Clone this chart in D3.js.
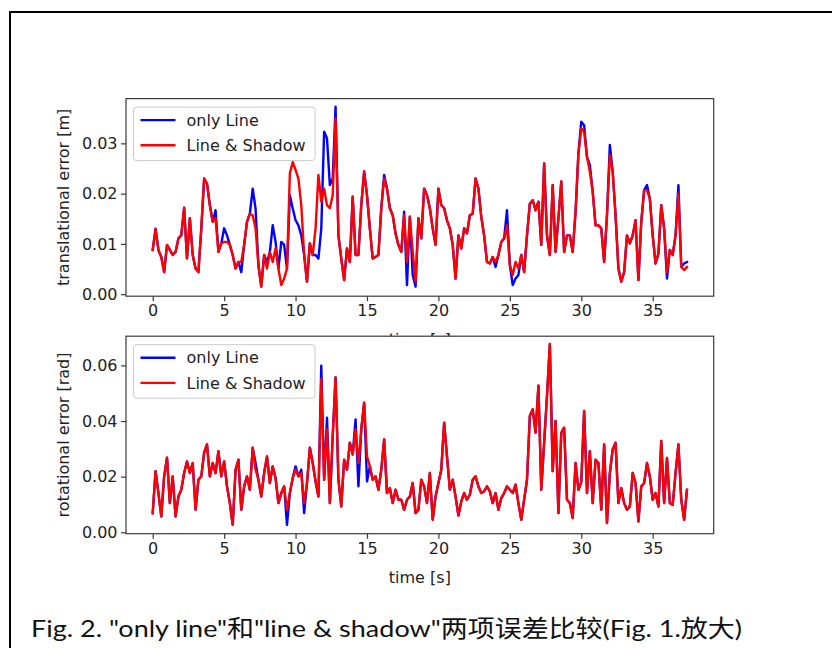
<!DOCTYPE html>
<html><head><meta charset="utf-8">
<script src="https://cdn.jsdelivr.net/npm/d3@7/dist/d3.min.js"></script>
<style>body{margin:0;background:#fff}svg{display:block}</style>
</head><body><svg id="c" width="832" height="648"></svg>
<script>
// ---- data ----
const sampleStep = 0.2; // s between samples
const xTicks = [0, 5, 10, 15, 20, 25, 30, 35];
const transTicks = [0.00, 0.01, 0.02, 0.03];
const rotTicks = [0.00, 0.02, 0.04, 0.06];
const seriesNames = ["only Line", "Line & Shadow"];
const seriesColors = ["#0000ff", "#ff0000"];
const caption = "Fig. 2. \"only line\"和\"line & shadow\"两项误差比较(Fig. 1.放大)";

const transOnlyLine = [
0.0088,0.0130,0.0088,0.0074,0.0044,0.0098,0.0088,0.0078,0.0084,0.0111,
0.0117,0.0172,0.0071,0.0151,0.0078,0.0051,0.0044,0.0130,0.0230,0.0220,
0.0177,0.0144,0.0167,0.0084,0.0101,0.0131,0.0117,0.0098,0.0078,0.0051,
0.0064,0.0044,0.0098,0.0144,0.0160,0.0210,0.0170,0.0058,0.0015,0.0078,
0.0064,0.0084,0.0137,0.0104,0.0051,0.0104,0.0098,0.0051,0.0197,0.0171,
0.0147,0.0137,0.0117,0.0078,0.0025,0.0101,0.0078,0.0078,0.0071,0.0131,
0.0323,0.0310,0.0217,0.0230,0.0373,0.0117,0.0071,0.0028,0.0091,0.0064,
0.0194,0.0078,0.0078,0.0177,0.0244,0.0197,0.0131,0.0071,0.0074,0.0078,
0.0171,0.0237,0.0210,0.0171,0.0157,0.0121,0.0098,0.0084,0.0164,0.0018,
0.0154,0.0038,0.0015,0.0151,0.0111,0.0210,0.0197,0.0171,0.0131,0.0098,
0.0210,0.0177,0.0171,0.0147,0.0131,0.0098,0.0031,0.0117,0.0091,0.0131,
0.0121,0.0157,0.0160,0.0230,0.0210,0.0154,0.0117,0.0064,0.0061,0.0074,
0.0054,0.0078,0.0104,0.0111,0.0167,0.0058,0.0018,0.0031,0.0038,0.0078,
0.0044,0.0117,0.0180,0.0187,0.0167,0.0184,0.0098,0.0260,0.0117,0.0078,
0.0217,0.0084,0.0151,0.0224,0.0084,0.0117,0.0117,0.0084,0.0164,0.0280,
0.0343,0.0336,0.0273,0.0257,0.0204,0.0137,0.0137,0.0131,0.0064,0.0157,
0.0297,0.0244,0.0157,0.0051,0.0025,0.0044,0.0117,0.0101,0.0117,0.0147,
0.0028,0.0144,0.0207,0.0217,0.0190,0.0117,0.0061,0.0081,0.0177,0.0131,
0.0031,0.0088,0.0078,0.0117,0.0217,0.0054,0.0061,0.0064];

const transLineShadow = [
0.0088,0.0130,0.0088,0.0074,0.0044,0.0098,0.0088,0.0078,0.0084,0.0111,
0.0117,0.0172,0.0071,0.0151,0.0078,0.0051,0.0044,0.0130,0.0230,0.0220,
0.0177,0.0144,0.0151,0.0084,0.0101,0.0104,0.0104,0.0098,0.0078,0.0051,
0.0064,0.0064,0.0098,0.0144,0.0160,0.0157,0.0131,0.0058,0.0015,0.0078,
0.0051,0.0084,0.0064,0.0091,0.0051,0.0018,0.0031,0.0051,0.0240,0.0263,
0.0247,0.0230,0.0177,0.0078,0.0025,0.0101,0.0078,0.0131,0.0237,0.0184,
0.0210,0.0177,0.0171,0.0197,0.0350,0.0117,0.0071,0.0028,0.0091,0.0064,
0.0194,0.0078,0.0078,0.0177,0.0244,0.0197,0.0131,0.0071,0.0074,0.0078,
0.0171,0.0230,0.0210,0.0171,0.0157,0.0121,0.0098,0.0084,0.0157,0.0064,
0.0154,0.0084,0.0025,0.0151,0.0111,0.0210,0.0197,0.0171,0.0131,0.0098,
0.0210,0.0177,0.0171,0.0147,0.0131,0.0098,0.0031,0.0117,0.0091,0.0131,
0.0121,0.0157,0.0160,0.0230,0.0210,0.0154,0.0117,0.0064,0.0061,0.0074,
0.0064,0.0078,0.0104,0.0111,0.0137,0.0058,0.0038,0.0064,0.0051,0.0078,
0.0044,0.0117,0.0180,0.0187,0.0167,0.0184,0.0098,0.0260,0.0117,0.0078,
0.0217,0.0084,0.0151,0.0224,0.0084,0.0117,0.0117,0.0084,0.0164,0.0280,
0.0330,0.0323,0.0273,0.0244,0.0204,0.0137,0.0137,0.0131,0.0064,0.0157,
0.0277,0.0244,0.0157,0.0051,0.0025,0.0044,0.0117,0.0101,0.0117,0.0147,
0.0028,0.0144,0.0207,0.0207,0.0190,0.0117,0.0061,0.0081,0.0177,0.0131,
0.0044,0.0088,0.0078,0.0117,0.0200,0.0054,0.0048,0.0054];

const rotOnlyLine = [
0.0069,0.0220,0.0141,0.0057,0.0201,0.0268,0.0105,0.0201,0.0057,0.0129,
0.0153,0.0213,0.0255,0.0213,0.0249,0.0081,0.0189,0.0201,0.0286,0.0316,
0.0201,0.0249,0.0213,0.0292,0.0201,0.0255,0.0165,0.0105,0.0027,0.0225,
0.0261,0.0081,0.0165,0.0201,0.0153,0.0304,0.0249,0.0189,0.0129,0.0213,
0.0273,0.0177,0.0237,0.0195,0.0105,0.0141,0.0165,0.0027,0.0141,0.0195,
0.0237,0.0201,0.0225,0.0069,0.0177,0.0304,0.0249,0.0183,0.0129,0.0599,
0.0189,0.0412,0.0105,0.0346,0.0557,0.0189,0.0093,0.0261,0.0225,0.0322,
0.0280,0.0406,0.0165,0.0370,0.0466,0.0183,0.0237,0.0189,0.0201,0.0153,
0.0225,0.0334,0.0141,0.0159,0.0105,0.0153,0.0117,0.0117,0.0081,0.0117,
0.0129,0.0177,0.0069,0.0081,0.0189,0.0165,0.0105,0.0213,0.0045,0.0129,
0.0177,0.0225,0.0394,0.0273,0.0153,0.0189,0.0129,0.0060,0.0111,0.0141,
0.0117,0.0135,0.0189,0.0201,0.0165,0.0141,0.0147,0.0165,0.0147,0.0105,
0.0141,0.0081,0.0123,0.0141,0.0165,0.0153,0.0141,0.0171,0.0105,0.0045,
0.0117,0.0189,0.0418,0.0442,0.0358,0.0527,0.0153,0.0322,0.0490,0.0677,
0.0220,0.0400,0.0069,0.0358,0.0376,0.0117,0.0105,0.0051,0.0249,0.0153,
0.0180,0.0436,0.0141,0.0292,0.0105,0.0261,0.0249,0.0081,0.0316,0.0033,
0.0213,0.0298,0.0322,0.0105,0.0159,0.0105,0.0081,0.0093,0.0213,0.0177,
0.0039,0.0165,0.0177,0.0249,0.0201,0.0117,0.0141,0.0093,0.0328,0.0105,
0.0267,0.0105,0.0099,0.0213,0.0316,0.0117,0.0045,0.0153];

const rotLineShadow = [
0.0069,0.0220,0.0141,0.0057,0.0201,0.0268,0.0105,0.0201,0.0057,0.0129,
0.0153,0.0213,0.0255,0.0213,0.0249,0.0081,0.0189,0.0201,0.0286,0.0316,
0.0201,0.0249,0.0213,0.0292,0.0201,0.0255,0.0165,0.0105,0.0027,0.0225,
0.0261,0.0081,0.0165,0.0201,0.0153,0.0304,0.0225,0.0189,0.0129,0.0213,
0.0273,0.0177,0.0237,0.0195,0.0105,0.0141,0.0165,0.0081,0.0141,0.0195,
0.0225,0.0201,0.0213,0.0105,0.0177,0.0304,0.0249,0.0183,0.0129,0.0550,
0.0189,0.0370,0.0105,0.0346,0.0557,0.0189,0.0093,0.0261,0.0225,0.0322,
0.0280,0.0370,0.0249,0.0370,0.0466,0.0273,0.0237,0.0189,0.0201,0.0153,
0.0225,0.0334,0.0141,0.0159,0.0105,0.0153,0.0117,0.0117,0.0081,0.0117,
0.0129,0.0177,0.0069,0.0081,0.0189,0.0165,0.0105,0.0213,0.0045,0.0129,
0.0177,0.0225,0.0394,0.0273,0.0153,0.0189,0.0129,0.0060,0.0111,0.0141,
0.0117,0.0135,0.0189,0.0201,0.0165,0.0141,0.0147,0.0165,0.0147,0.0105,
0.0141,0.0081,0.0123,0.0141,0.0165,0.0153,0.0141,0.0171,0.0105,0.0045,
0.0117,0.0189,0.0418,0.0442,0.0358,0.0527,0.0153,0.0322,0.0490,0.0677,
0.0220,0.0400,0.0069,0.0358,0.0376,0.0117,0.0105,0.0051,0.0249,0.0153,
0.0180,0.0436,0.0141,0.0292,0.0105,0.0261,0.0249,0.0081,0.0316,0.0033,
0.0213,0.0298,0.0322,0.0105,0.0159,0.0105,0.0081,0.0093,0.0213,0.0177,
0.0039,0.0165,0.0177,0.0249,0.0201,0.0117,0.0141,0.0093,0.0328,0.0105,
0.0267,0.0105,0.0099,0.0213,0.0316,0.0117,0.0045,0.0153];

// ---- drawing ----
const svg = d3.select("#c");
const FONT = "'DejaVu Sans', sans-serif";
const FS = 16;

svg.append("rect").attr("width", 832).attr("height", 648).attr("fill", "#fff");
// outer document frame
svg.append("path").attr("d", "M10,648V12H832")
  .attr("fill", "none").attr("stroke", "#000").attr("stroke-width", 2);

const tMax = (transLineShadow.length - 1) * sampleStep;
const xPad = tMax * 0.05;
const left = 126, right = 713.7;
const x = d3.scaleLinear().domain([-xPad, tMax + xPad]).range([left, right]);

function panel(opt) {
  const g = svg.append("g");
  const y = d3.scaleLinear().domain(opt.yDomain).range([opt.bottom, opt.top]);
  // axes background (covers what lies behind)
  g.append("rect").attr("x", left).attr("y", opt.top)
    .attr("width", right - left).attr("height", opt.bottom - opt.top).attr("fill", "#fff");

  const series = [opt.a, opt.b];
  const line = d3.line().x((d, i) => x(i * sampleStep)).y(d => y(d));
  series.forEach((s, k) => {
    g.append("path").datum(s).attr("d", line)
      .attr("fill", "none").attr("stroke", seriesColors[k])
      .attr("stroke-width", 2.4).attr("stroke-linejoin", "round").attr("stroke-linecap", "square");
  });

  // frame
  g.append("rect").attr("x", left).attr("y", opt.top)
    .attr("width", right - left).attr("height", opt.bottom - opt.top)
    .attr("fill", "none").attr("stroke", "#3a3a3a").attr("stroke-width", 1.2);

  const xa = g.append("g").attr("transform", `translate(0,${opt.bottom})`)
    .call(d3.axisBottom(x).tickValues(xTicks).tickFormat(d3.format("d")).tickSize(5).tickPadding(3.5));
  const ya = g.append("g").attr("transform", `translate(${left},0)`)
    .call(d3.axisLeft(y).tickValues(opt.yTicks).tickFormat(d3.format(".2f")).tickSize(5).tickPadding(3.5));
  [xa, ya].forEach(a => {
    a.select(".domain").remove();
    a.selectAll("line").attr("stroke", "#3a3a3a").attr("stroke-width", 1.2);
    a.selectAll("text").attr("font-family", FONT).attr("font-size", FS).attr("fill", "#222");
  });

  // axis labels
  g.append("text").attr("x", (left + right) / 2).attr("y", opt.bottom + 49)
    .attr("text-anchor", "middle").attr("font-family", FONT).attr("font-size", FS)
    .attr("fill", "#222").text("time [s]");
  g.append("text").attr("transform", `translate(69,${(opt.top + opt.bottom) / 2}) rotate(-90)`)
    .attr("text-anchor", "middle").attr("font-family", FONT).attr("font-size", FS)
    .attr("fill", "#222").text(opt.ylabel);

  // legend
  const lx = 133.5, ly = opt.top + 8.5, lw = 181.5, lh = 53.5;
  g.append("rect").attr("x", lx).attr("y", ly).attr("width", lw).attr("height", lh)
    .attr("rx", 3).attr("fill", "#fff").attr("fill-opacity", 0.85)
    .attr("stroke", "#cccccc").attr("stroke-width", 1);
  seriesNames.forEach((n, k) => {
    const yy = ly + 13 + k * 25.2;
    g.append("line").attr("x1", lx + 7).attr("x2", lx + 42).attr("y1", yy).attr("y2", yy)
      .attr("stroke", seriesColors[k]).attr("stroke-width", 2.4);
    g.append("text").attr("x", lx + 53).attr("y", yy + 5.6)
      .attr("font-family", FONT).attr("font-size", FS).attr("fill", "#222").text(n);
  });
}

panel({ top: 98.6, bottom: 296.2, yDomain: [-0.0004, 0.0389], yTicks: transTicks,
        a: transOnlyLine, b: transLineShadow, ylabel: "translational error [m]" });
panel({ top: 336.2, bottom: 533.7, yDomain: [-0.0005, 0.0705], yTicks: rotTicks,
        a: rotOnlyLine, b: rotLineShadow, ylabel: "rotational error [rad]" });

// caption
svg.append("text").attr("x", 31).attr("y", 637)
  .attr("font-family", "Lato, 'Noto Sans CJK SC', sans-serif")
  .attr("font-size", 24).attr("fill", "#111")
  .attr("textLength", 711).attr("lengthAdjust", "spacingAndGlyphs")
  .text(caption);
</script></body></html>
